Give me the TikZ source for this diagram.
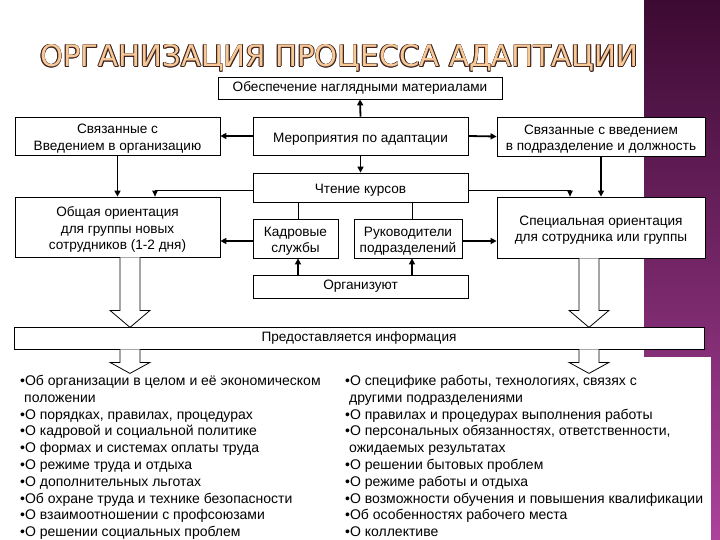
\documentclass[tikz,border=0pt]{standalone}
\usepackage{fontspec}
\setmainfont{Liberation Sans}
\newfontfamily\titlefont{DejaVu Sans}
\usetikzlibrary{arrows.meta,calc}
\definecolor{bandtop}{RGB}{60,10,50}
\definecolor{bandbot}{RGB}{172,66,156}
\definecolor{ttlfill}{RGB}{247,200,152}
\definecolor{ttlline}{RGB}{60,35,30}
\newcommand{\ttltext}{\resizebox{598pt}{22pt}{\titlefont ОРГАНИЗАЦИЯ ПРОЦЕССА АДАПТАЦИИ}}
\newcommand{\ttlcopy}[2]{\makebox[0pt][l]{\hspace*{#1}\raisebox{#2}{\ttltext}}}
\newcommand{\ttloutlined}{\textcolor{ttlline}{\ttlcopy{0.8pt}{0pt}\ttlcopy{-0.8pt}{0pt}\ttlcopy{0pt}{0.8pt}\ttlcopy{0pt}{-0.8pt}\ttlcopy{0.57pt}{0.57pt}\ttlcopy{-0.57pt}{0.57pt}\ttlcopy{0.57pt}{-0.57pt}\ttlcopy{-0.57pt}{-0.57pt}}\textcolor{ttlfill}{\ttltext}}
\newcommand{\boxstrut}{\rule{0pt}{15pt}}
\begin{document}
\begin{tikzpicture}[x=1pt,y=-1pt,
 box/.style={draw=black, line width=0.8pt, fill=white, align=center, inner sep=1pt, font=\fontsize{13.6}{16.8}\selectfont},
 thk/.style={line width=1.8pt, -{Triangle[length=6pt,width=6pt]}},
 thn/.style={line width=0.9pt, -{Triangle[length=6pt,width=5.5pt]}},
 plainline/.style={line width=0.9pt},
 hollow/.style={draw=black, line width=0.8pt, fill=white, line join=miter},
 lst/.style={anchor=north west, inner sep=0pt, align=left, font=\fontsize{14}{16.8}\selectfont}]
\useasboundingbox (0,0) rectangle (720,540);
\fill[white] (0,0) rectangle (720,540);
\shade[top color=bandtop, bottom color=bandbot] (644,0) rectangle (720,540);
\fill[white] (0,357) rectangle (711,540);

% title
\node[anchor=base west, inner sep=0pt] (title) at (40,67) {\ttloutlined};

% boxes
\node[box, minimum width=284pt, minimum height=22pt] (obesp) at (360,88) {Обеспечение наглядными материалами};
\node[box, minimum width=215pt, minimum height=38pt] (merop) at (360.5,136) {\boxstrut Мероприятия по адаптации};
\node[box, minimum width=205pt, minimum height=38pt] (sv1) at (117.5,136) {\boxstrut Связанные с\\Введением в организацию};
\node[box, minimum width=208pt, minimum height=39pt] (sv2) at (601,136.5) {\boxstrut Связанные с введением\\в подразделение и должность};
\node[box, minimum width=215pt, minimum height=29pt] (chten) at (360.5,187.5) {\boxstrut Чтение курсов};
\node[box, minimum width=205pt, minimum height=60pt] (obsch) at (117.5,227) {\boxstrut Общая ориентация\\для группы новых\\сотрудников (1-2 дня)};
\node[box, minimum width=85pt, minimum height=39pt] (kadr) at (295.5,238.5) {\boxstrut Кадровые\\службы};
\node[box, minimum width=108pt, minimum height=39pt] (ruk) at (408,238.5) {\boxstrut Руководители\\подразделений};
\node[box, minimum width=208pt, minimum height=61pt] (spec) at (601,227.5) {\boxstrut Специальная ориентация\\для сотрудника или группы};
\node[box, minimum width=215pt, minimum height=23pt] (org) at (360.5,286.5) {Организуют};
\node[box, minimum width=690pt, minimum height=22pt] (pred) at (359,338) {Предоставляется информация};

% connectors
\draw[thk] (merop.north) -- (obesp.south);
\draw[thk] (merop.west) -- (sv1.east);
\draw[thk] (merop.east) -- (sv2.west);
\draw[thk] (merop.south) -- (chten.north);
\draw[thk] (sv1.south) -- (obsch.north);
\draw[thk] (sv2.south) -- (spec.north);
\draw[thn] ([yshift=-2.5pt]chten.west) -| ([xshift=37.5pt]obsch.north);
\draw[thn] ([yshift=-2.5pt]chten.east) -| ([xshift=-31pt]spec.north);
\draw[plainline] ([xshift=2.5pt]kadr.north |- chten.south) -- ([xshift=2.5pt]kadr.north);
\draw[plainline] ([xshift=4pt]ruk.north |- chten.south) -- ([xshift=4pt]ruk.north);
\draw[thk] ([yshift=-2.5pt]kadr.west) -- ([yshift=-2.5pt]kadr.west -| obsch.east);
\draw[thk] ([yshift=-2.5pt]ruk.east) -- ([yshift=-2.5pt]ruk.east -| spec.west);
\draw[thk] ([xshift=2.5pt]kadr.south |- org.north) -- ([xshift=2.5pt]kadr.south);
\draw[thk] ([xshift=4pt]ruk.south |- org.north) -- ([xshift=4pt]ruk.south);

% hollow arrows
\draw[hollow] ([xshift=2.5pt]obsch.south) -- ++(0,53) -- ++(-10,0) -- ++(20,17) -- ++(20,-17) -- ++(-10,0) -- ++(0,-53);
\draw[hollow] ([xshift=-22pt]spec.south) -- ++(0,52) -- ++(-10,0) -- ++(20,17) -- ++(20,-17) -- ++(-10,0) -- ++(0,-52);
\draw[hollow] ([xshift=-239pt]pred.south) -- ++(0,13) -- ++(-10,0) -- ++(20,11) -- ++(20,-11) -- ++(-10,0) -- ++(0,-13);
\draw[hollow] ([xshift=220pt]pred.south) -- ++(0,13) -- ++(-10,0) -- ++(20,11) -- ++(20,-11) -- ++(-10,0) -- ++(0,-13);

% lists
\node[lst] (left) at (20,375) {•Об организации в целом и её экономическом\\
\hspace*{4pt}положении\\
•О порядках, правилах, процедурах\\
•О кадровой и социальной политике\\
•О формах и системах оплаты труда\\
•О режиме труда и отдыха\\
•О дополнительных льготах\\
•Об охране труда и технике безопасности\\
•О взаимоотношении с профсоюзами\\
•О решении социальных проблем};
\node[lst] (right) at (345,375) {•О специфике работы, технологиях, связях с\\
\hspace*{4pt}другими подразделениями\\
•О правилах и процедурах выполнения работы\\
•О персональных обязанностях, ответственности,\\
\hspace*{4pt}ожидаемых результатах\\
•О решении бытовых проблем\\
•О режиме работы и отдыха\\
•О возможности обучения и повышения квалификации\\
•Об особенностях рабочего места\\
•О коллективе};
\end{tikzpicture}
\end{document}
